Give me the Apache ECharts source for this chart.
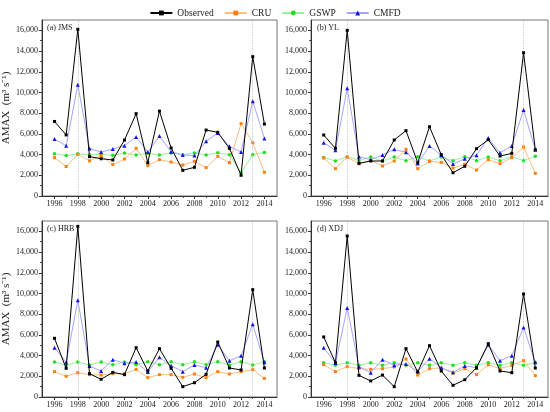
<!DOCTYPE html>
<html>
<head>
<meta charset="utf-8">
<script src="https://cdn.jsdelivr.net/npm/echarts@6/dist/echarts.min.js"></script>
<style>html,body{margin:0;padding:0;background:#fff}#c{width:550px;height:412px}</style>
</head>
<body>
<div id="c"></div>
<script>
const years = [1996,1997,1998,1999,2000,2001,2002,2003,2004,2005,2006,2007,2008,2009,2010,2011,2012,2013,2014];
const xTickLabels = [1996,1998,2000,2002,2004,2006,2008,2010,2012,2014];
const xMinorTicks = [1997,1999,2001,2003,2005,2007,2009,2011,2013];
const yTickLabels = [0,2000,4000,6000,8000,10000,12000,14000,16000];
const yMinorTicks = [1000,3000,5000,7000,9000,11000,13000,15000];
const seriesNames = ['Observed','CRU','GSWP','CMFD'];
const panelLabels = ['(a) JMS','(b) YL','(c) HRB','(d) XDJ'];

// (a) JMS
const jmsObs  = [7200,5900,16100,3800,3600,3480,5400,7950,3220,8200,4640,2480,2770,6370,6150,4600,2000,13460,6950];
const jmsCru  = [3700,2850,4020,3400,3900,3030,3570,4600,2930,3510,3280,2990,3350,2740,3830,3220,6990,5150,2290];
const jmsGswp = [4090,3900,4090,3960,4020,3930,4150,3960,4120,3960,4150,3990,4150,3960,4180,3990,2250,3990,4210];
const jmsCmfd = [5500,4850,10750,4600,4240,4540,4860,5700,4240,5790,4270,3960,3900,5280,6080,4800,4240,9150,5560];
// (b) YL
const ylObs  = [5890,4600,16000,3150,3380,3380,5410,6310,3220,6690,3990,2250,2870,4570,5440,3860,4120,13840,4470];
const ylCru  = [3670,2640,3750,3120,3450,2900,3380,4510,2640,3350,3250,2700,3060,2510,3510,3120,3700,4730,2190];
const ylGswp = [3730,3380,3800,3440,3770,3380,3770,3410,3800,3380,3770,3410,3800,3410,3770,3410,3800,3410,3830];
const ylCmfd = [5150,4410,10400,3800,3510,3960,4510,4220,3150,4830,3960,3090,3610,3930,5600,4180,4830,8310,4470];
// (c) HRB
const hrbObs  = [5670,2770,16480,2250,1710,2380,2160,4760,2510,4670,2770,1000,1380,2190,5310,2800,2610,10370,2800];
const hrbCru  = [2450,2000,2350,2160,2120,2250,2250,2670,1870,2160,2160,1900,2220,1870,2450,2220,2450,2640,1800];
const hrbGswp = [3380,3060,3380,3090,3380,3120,3380,3120,3410,3120,3410,3120,3410,3120,3410,3090,3410,3090,3410];
const hrbCmfd = [4760,3350,9340,2990,2510,3610,3250,3380,2410,3830,3030,2450,3090,2830,5050,3510,3990,7020,3350];
// (d) XDJ
const xdjObs  = [5800,3320,15550,2090,1550,2120,1000,4670,2410,4960,2510,1130,1670,2830,5150,2510,2350,9950,2800];
const xdjCru  = [3120,2450,2930,2740,2670,2740,2900,3670,2120,2740,2800,2290,2740,2160,3120,2740,3060,3510,2060];
const xdjGswp = [3320,3060,3320,3060,3320,3060,3320,3060,3320,3060,3320,3060,3320,3060,3320,3060,3320,3060,3320];
const xdjCmfd = [4760,3280,8600,2930,2350,3610,3060,3190,2480,3700,2830,2380,3000,2830,5050,3510,3990,6720,3350];

const panels = [
  [jmsObs, jmsCru, jmsGswp, jmsCmfd],
  [ylObs, ylCru, ylGswp, ylCmfd],
  [hrbObs, hrbCru, hrbGswp, hrbCmfd],
  [xdjObs, xdjCru, xdjGswp, xdjCmfd]
];

const FONT = '"Liberation Serif", "Times New Roman", serif';
const gridBoxes = [
  {left: 41, top: 20, width: 236, height: 176},
  {left: 311, top: 20, width: 237, height: 176},
  {left: 41, top: 221, width: 236, height: 176},
  {left: 311, top: 221, width: 237, height: 176}
];
const styles = [
  {marker: '#000000', line: '#000000', symbol: 'rect', size: 3, z: 10},
  {marker: '#FF7F0E', line: '#F9BE80', symbol: 'rect', size: 3, z: 4},
  {marker: '#22DD22', line: '#98F298', symbol: 'circle', size: 3.5, z: 3},
  {marker: '#1414E0', line: '#A4A4FF', symbol: 'triangle', size: 4, z: 5}
];
const X_MIN = 1994.92, X_MAX = 2015.08, Y_MAX = 17000;
const axisColor = '#333';

const grid = [], xAxis = [], yAxis = [], series = [], title = [];
gridBoxes.forEach((g, i) => {
  grid.push(Object.assign({show: true, borderColor: '#777', borderWidth: 1, backgroundColor: 'transparent'}, g));
  title.push({text: panelLabels[i], left: g.left + 6, top: g.top + 4, padding: 0,
    textStyle: {fontFamily: FONT, fontSize: 8, fontWeight: 'normal', color: '#222'}});
  xAxis.push({type: 'value', gridIndex: i, min: X_MIN, max: X_MAX, position: 'bottom',
    axisLine: {onZero: false, lineStyle: {color: axisColor, width: 1}},
    axisTick: {show: true, length: 3, customValues: xTickLabels, lineStyle: {color: axisColor}},
    axisLabel: {customValues: xTickLabels, fontFamily: FONT, fontSize: 8, color: '#222', margin: 4,
      formatter: v => String(Math.round(v))},
    splitLine: {show: false}});
  xAxis.push({type: 'value', gridIndex: i, min: X_MIN, max: X_MAX, position: 'bottom',
    axisLine: {show: false, onZero: false},
    axisTick: {show: true, length: 1.8, customValues: xMinorTicks, lineStyle: {color: axisColor}},
    axisLabel: {show: false}, splitLine: {show: false}});
  const yMain = {type: 'value', gridIndex: i, min: 0, max: Y_MAX, position: 'left',
    axisLine: {show: true, lineStyle: {color: axisColor, width: 1}},
    axisTick: {show: true, length: 3, customValues: yTickLabels, lineStyle: {color: axisColor}},
    axisLabel: {customValues: yTickLabels, fontFamily: FONT, fontSize: 8, color: '#222', margin: 4,
      formatter: v => Number(v).toLocaleString('en-US')},
    splitLine: {show: false}};
  if (i % 2 === 0) {
    yMain.name = 'AMAX  (m³ s⁻¹)';
    yMain.nameLocation = 'middle';
    yMain.nameGap = 28;
    yMain.nameTextStyle = {fontFamily: FONT, fontSize: 11, color: '#222'};
  }
  yAxis.push(yMain);
  yAxis.push({type: 'value', gridIndex: i, min: 0, max: Y_MAX, position: 'left',
    axisLine: {show: false},
    axisTick: {show: true, length: 1.8, customValues: yMinorTicks, lineStyle: {color: axisColor}},
    axisLabel: {show: false}, splitLine: {show: false}});

  panels[i].forEach((vals, k) => {
    const st = styles[k];
    const s = {
      name: seriesNames[k], type: 'line', xAxisIndex: i * 2, yAxisIndex: i * 2,
      data: years.map((y, j) => [y, vals[j]]),
      symbol: st.symbol, symbolSize: st.size, showSymbol: true,
      itemStyle: {color: st.marker},
      lineStyle: {color: st.line, width: 1},
      z: st.z, animation: false, emphasis: {disabled: true}
    };
    if (k === 0) {
      s.markLine = {silent: true, symbol: 'none', label: {show: false}, animation: false,
        lineStyle: {color: '#BBBBBB', type: 'dotted', width: 0.8},
        data: [{xAxis: 1998}, {xAxis: 2013}]};
    }
    series.push(s);
  });
});

const chart = echarts.init(document.getElementById('c'), null, {renderer: 'canvas'});
chart.setOption({
  animation: false,
  backgroundColor: '#fff',
  title: title,
  legend: {data: seriesNames, left: 'center', top: 3, itemWidth: 22, itemHeight: 6, itemGap: 10,
    textStyle: {fontFamily: FONT, fontSize: 9.5, color: '#222'}},
  grid: grid, xAxis: xAxis, yAxis: yAxis, series: series
});
</script>
</body>
</html>
